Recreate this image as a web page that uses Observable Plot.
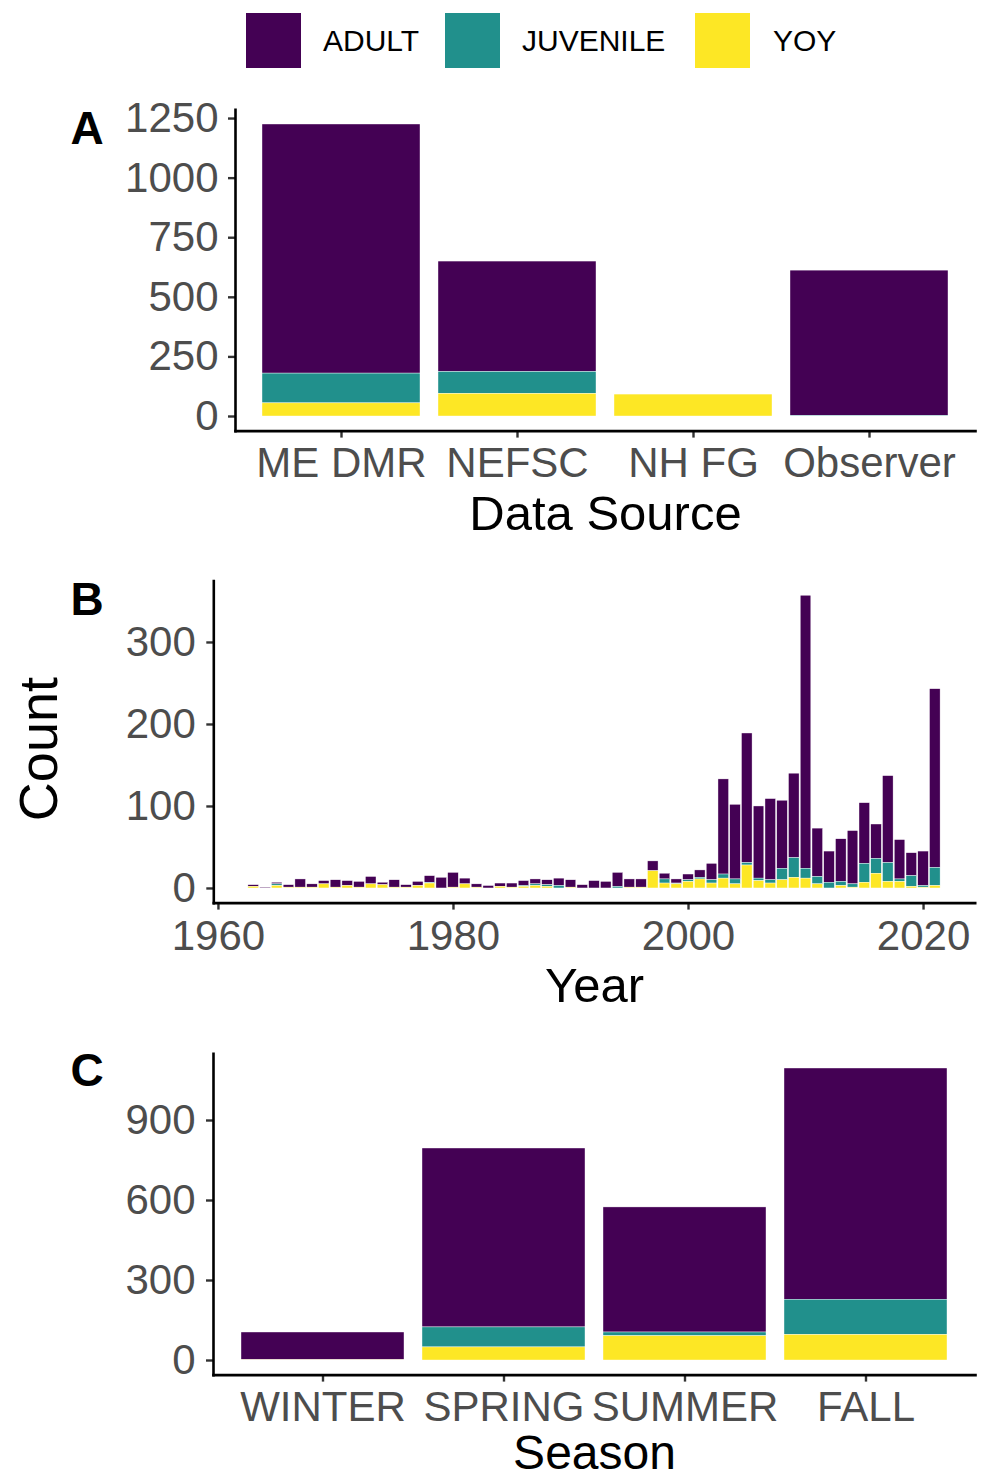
<!DOCTYPE html>
<html><head><meta charset="utf-8">
<script src="https://cdn.jsdelivr.net/npm/d3@7"></script>
<script src="https://cdn.jsdelivr.net/npm/@observablehq/plot@0.6"></script>
<style>
body{margin:0;background:#fff;}
#root{position:relative;width:982px;height:1479px;overflow:hidden;font-family:"Liberation Sans",Arial,sans-serif;color:#000;}
#root svg{position:absolute;left:0;}
.sw{position:absolute;top:13px;width:55px;height:55px;}
.lt{position:absolute;top:13px;line-height:55px;font-size:30px;color:#000;}
</style></head><body><div id="root"></div>
<script>
// ---------- DATA ----------
const stages = ["ADULT", "JUVENILE", "YOY"];
const stageColors = ["#440154", "#21908C", "#FDE725"];
const stackOrder = ["YOY", "JUVENILE", "ADULT"];

// Panel A: data source
const sources = ["ME DMR", "NEFSC", "NH FG", "Observer"];
const sourceAdult = [1045, 463, 0, 609];
const sourceJuvenile = [125, 92, 0, 3];
const sourceYoy = [55, 95, 92, 0];
const ticksA = [0, 250, 500, 750, 1000, 1250];

// Panel B: year
const years = [1963,1964,1965,1966,1967,1968,1969,1970,1971,1972,1973,1974,1975,1976,1977,1978,1979,1980,1981,1982,1983,1984,1985,1986,1987,1988,1989,1990,1991,1992,1993,1994,1995,1996,1997,1998,1999,2000,2001,2002,2003,2004,2005,2006,2007,2008,2009,2010,2011,2012,2013,2014,2015,2016,2017,2018,2019,2020,2021];
const yearAdult = [2,1,2,3,10,4,4,9,6,7,9,3,9,3,5,8,13,18,7,4,3,4,5,6,6,6,9,9,4,9,8,17,10,10,12,7,5,7,9,20,116,91,158,88,99,83,103,333,59,38,52,65,74,42,106,48,28,42,218];
const yearJuvenile = [0,0,2,0,0,0,0,0,0,0,0,0,0,0,0,1,0,0,0,0,0,0,0,1,2,2,3,0,0,0,0,2,0,0,0,5,1,2,2,4,5,6,3,3,4,14,24,12,9,7,5,4,23,18,23,3,13,2,22];
const yearYoy = [2,0,3,1,1,1,5,1,3,1,5,4,1,1,3,6,0,1,5,1,0,2,1,2,3,2,0,1,0,0,0,0,1,1,21,6,5,8,11,6,12,5,28,9,6,10,13,12,5,0,3,1,7,18,8,8,2,1,3];
const ticksBy = [0, 100, 200, 300];
const ticksBx = [1960, 1980, 2000, 2020];

// Panel C: season
const seasons = ["WINTER", "SPRING", "SUMMER", "FALL"];
const seasonAdult = [104, 671, 469, 867];
const seasonJuvenile = [0, 75, 14, 132];
const seasonYoy = [1, 49, 91, 96];
const ticksC = [0, 300, 600, 900];

// ---------- HELPERS ----------
const FONT = '"Liberation Sans", Arial, Helvetica, sans-serif';
function toLong(cats, a, j, y) {
  const out = [];
  cats.forEach((c, i) => {
    out.push({cat: c, stage: "ADULT", count: a[i]});
    out.push({cat: c, stage: "JUVENILE", count: j[i]});
    out.push({cat: c, stage: "YOY", count: y[i]});
  });
  return out;
}
function expandDomain(a, j, y) {
  const m = d3.max(a.map((v, i) => v + j[i] + y[i]));
  return [-0.05 * m, 1.05 * m];
}
const root = document.getElementById("root");

// legend
const swX = [246, 445, 695], ltX = [323, 522, 773];
stages.forEach((s, i) => {
  const sw = document.createElement("div");
  sw.className = "sw"; sw.style.left = swX[i] + "px"; sw.style.background = stageColors[i];
  root.appendChild(sw);
  const t = document.createElement("div");
  t.className = "lt"; t.style.left = ltX[i] + "px"; t.textContent = s;
  root.appendChild(t);
});

const axisStyle = {tickSize: 7, fontSize: 42, fill: "#4D4D4D", stroke: "#333333", strokeWidth: 2.4, label: null, tickFormat: d => String(d)};
const frameStyle = {stroke: "#000", strokeWidth: 2.6};
const colorScale = {domain: stages, range: stageColors};

function place(svg, top) { svg.style.top = top + "px"; root.appendChild(svg); }

// ---------- PANEL A ----------
const dataA = toLong(sources, sourceAdult, sourceJuvenile, sourceYoy);
const plotA = Plot.plot({
  width: 982, height: 550,
  marginTop: 109.4, marginBottom: 119.4, marginLeft: 235, marginRight: 7,
  style: {fontFamily: FONT, background: "transparent", overflow: "visible", color: "#000"},
  x: {type: "band", domain: sources, paddingInner: 0.1, paddingOuter: 0.15, align: 0.5},
  y: {domain: expandDomain(sourceAdult, sourceJuvenile, sourceYoy)},
  color: colorScale,
  marks: [
    Plot.barY(dataA, {x: "cat", y: "count", fill: "stage", order: stackOrder, stroke: "white", strokeWidth: 0.4}),
    Plot.axisY({...axisStyle, ticks: ticksA, tickPadding: 10}),
    Plot.axisX({...axisStyle, tickPadding: 9}),
    Plot.frame({anchor: "left", ...frameStyle}),
    Plot.frame({anchor: "bottom", ...frameStyle}),
    Plot.text(["Data Source"], {text: d => d, frameAnchor: "bottom", textAnchor: "middle", lineAnchor: "top", dy: 64, fontSize: 49, fill: "#000"}),
    Plot.text(["A"], {text: d => d, frameAnchor: "top-left", textAnchor: "start", lineAnchor: "top", dx: 70 - 235, dy: 1, fontSize: 46, fontWeight: "bold", fill: "#000"})
  ]
});
place(plotA, 0);

// ---------- PANEL B ----------
const dataB = [];
years.forEach((yr, i) => {
  dataB.push({year: yr, stage: "ADULT", count: yearAdult[i]});
  dataB.push({year: yr, stage: "JUVENILE", count: yearJuvenile[i]});
  dataB.push({year: yr, stage: "YOY", count: yearYoy[i]});
});
const xExt = [d3.min(years) - 0.45, d3.max(years) + 0.45];
const xPad = 0.05 * (xExt[1] - xExt[0]);
const plotB = Plot.plot({
  width: 982, height: 470,
  marginTop: 30.6, marginBottom: 117.4, marginLeft: 213.3, marginRight: 7.3,
  style: {fontFamily: FONT, background: "transparent", overflow: "visible", color: "#000"},
  x: {domain: [xExt[0] - xPad, xExt[1] + xPad]},
  y: {domain: expandDomain(yearAdult, yearJuvenile, yearYoy)},
  color: colorScale,
  marks: [
    Plot.rectY(dataB, Plot.stackY({x: "year", x1: d => d.year - 0.45, x2: d => d.year + 0.45, y: "count", fill: "stage", order: stackOrder, stroke: "white", strokeWidth: 0.4})),
    Plot.axisY({...axisStyle, ticks: ticksBy, tickPadding: 11}),
    Plot.axisX({...axisStyle, ticks: ticksBx, tickPadding: 10}),
    Plot.frame({anchor: "left", ...frameStyle}),
    Plot.frame({anchor: "bottom", ...frameStyle}),
    Plot.text(["Year"], {text: d => d, frameAnchor: "bottom", textAnchor: "middle", lineAnchor: "top", dy: 64, fontSize: 49, fill: "#000"}),
    Plot.text(["Count"], {text: d => d, frameAnchor: "left", textAnchor: "middle", rotate: -90, lineAnchor: "middle", dx: 39 - 213.3, dy: 7, fontSize: 54, fill: "#000"}),
    Plot.text(["B"], {text: d => d, frameAnchor: "top-left", textAnchor: "start", lineAnchor: "top", dx: 70 - 213.3, dy: 1, fontSize: 46, fontWeight: "bold", fill: "#000"})
  ]
});
place(plotB, 550);

// ---------- PANEL C ----------
const dataC = toLong(seasons, seasonAdult, seasonJuvenile, seasonYoy);
const plotC = Plot.plot({
  width: 982, height: 459,
  marginTop: 33.4, marginBottom: 104.4, marginLeft: 213, marginRight: 7,
  style: {fontFamily: FONT, background: "transparent", overflow: "visible", color: "#000"},
  x: {type: "band", domain: seasons, paddingInner: 0.1, paddingOuter: 0.15, align: 0.5},
  y: {domain: expandDomain(seasonAdult, seasonJuvenile, seasonYoy)},
  color: colorScale,
  marks: [
    Plot.barY(dataC, {x: "cat", y: "count", fill: "stage", order: stackOrder, stroke: "white", strokeWidth: 0.4}),
    Plot.axisY({...axisStyle, ticks: ticksC, tickPadding: 11}),
    Plot.axisX({...axisStyle, tickPadding: 9}),
    Plot.frame({anchor: "left", ...frameStyle}),
    Plot.frame({anchor: "bottom", ...frameStyle}),
    Plot.text(["Season"], {text: d => d, frameAnchor: "bottom", textAnchor: "middle", lineAnchor: "top", dy: 60, fontSize: 48, fill: "#000"}),
    Plot.text(["C"], {text: d => d, frameAnchor: "top-left", textAnchor: "start", lineAnchor: "top", dx: 70 - 213, dy: -1, fontSize: 46, fontWeight: "bold", fill: "#000"})
  ]
});
place(plotC, 1020);
</script>
</body></html>
